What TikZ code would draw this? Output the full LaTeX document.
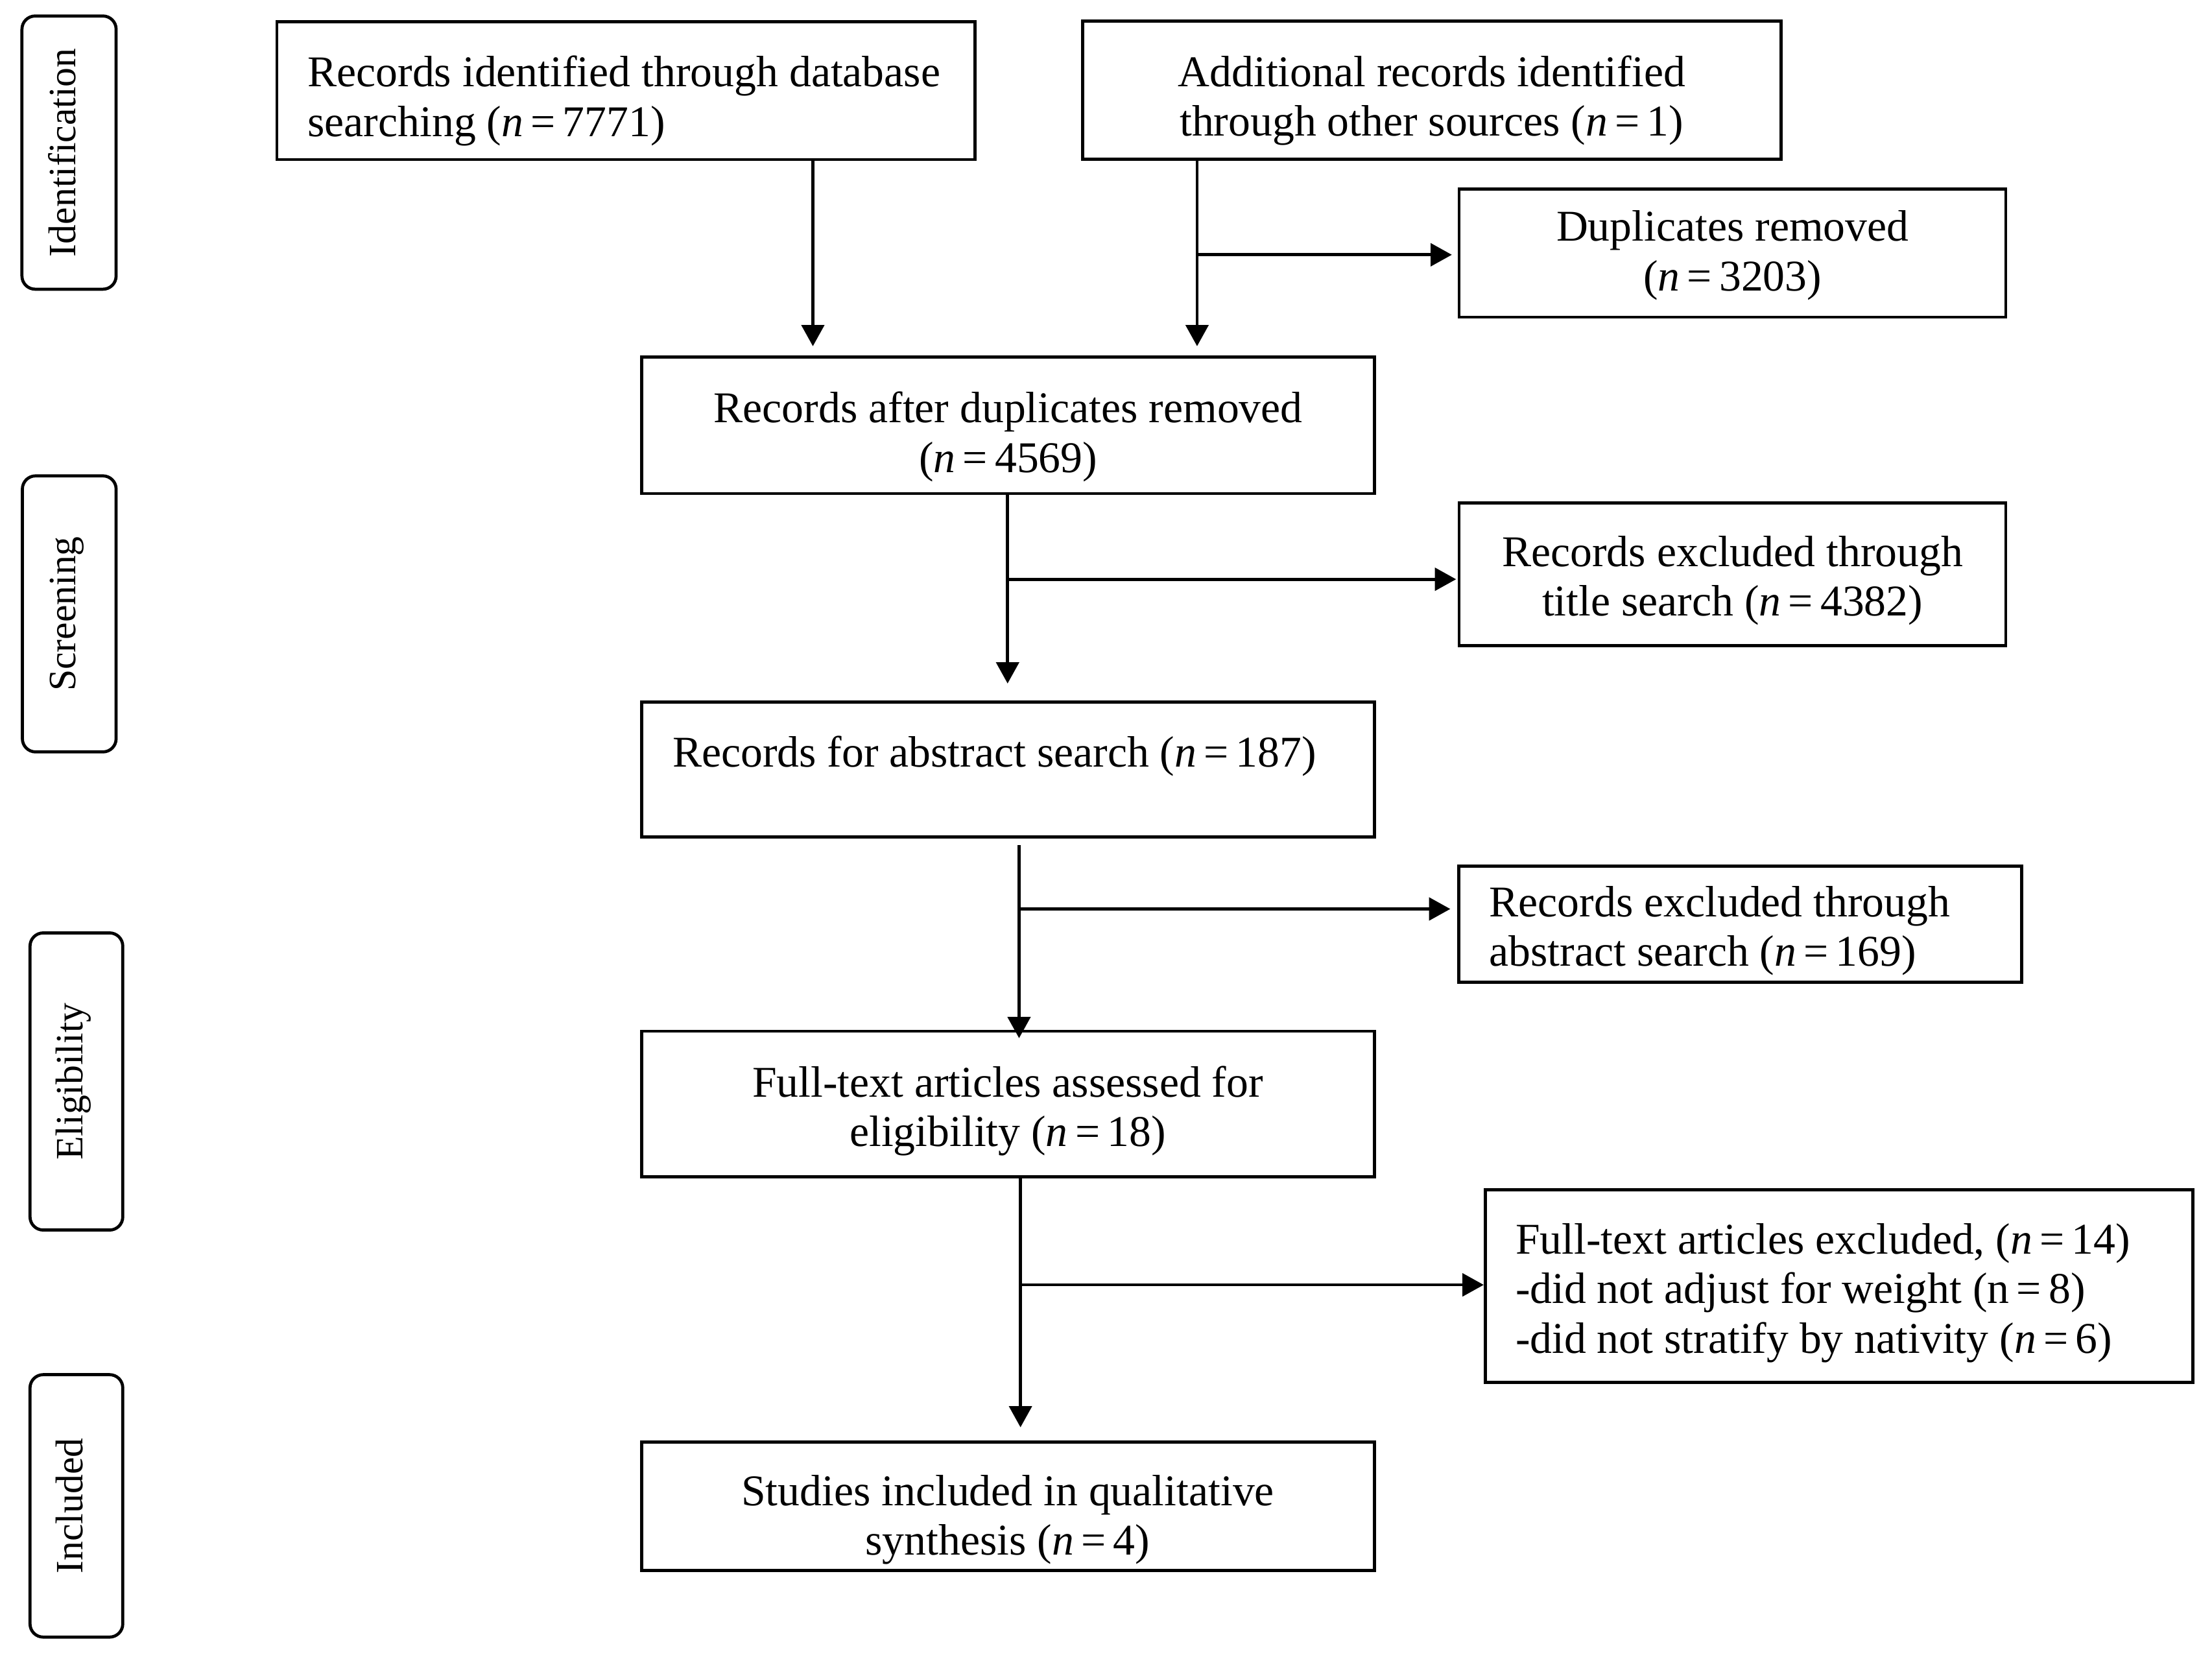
\documentclass[tikz,border=0pt]{standalone}
\usepackage{fontspec}
\setmainfont{Liberation Serif}
\usetikzlibrary{arrows.meta,calc,fit}
\newcommand{\nn}{\textit{n}\,=\,}
\newcommand{\TL}[2]{\begin{tabular}[t]{@{}#1@{}}#2\end{tabular}}
\begin{document}
\begin{tikzpicture}[x=0.3pt,y=-0.3pt,
  box/.style={draw, line width=0.65pt, inner sep=0pt, rectangle},
  side/.style={draw, line width=0.65pt, rounded corners=2.8pt, inner sep=0pt},
  txt/.style={inner sep=0pt, font=\fontsize{9.3}{10.5}\selectfont},
  stxt/.style={inner sep=0pt, rotate=90, anchor=base, font=\fontsize{8.2}{9}\selectfont},
  arr/.style={line width=0.65pt, -{Triangle[width=4.8pt,length=4.5pt]}}]
\useasboundingbox (0,0) rectangle (1562,1171);

% side phase boxes
\node[side, fit={(15.5,11.3) (82,204.2)}] (S1) {};
\node[stxt] (S1t) at (53.4,107.75) {Identification};
\node[side, fit={(15.8,336) (82,530.9)}] (S2) {};
\node[stxt] (S2t) at (53.2,433.45) {Screening};
\node[side, fit={(21.2,658.7) (86.7,868.5)}] (S3) {};
\node[stxt] (S3t) at (58.5,763.6) {Eligibility};
\node[side, fit={(21.2,970.6) (86.7,1155.9)}] (S4) {};
\node[stxt] (S4t) at (58.5,1063.25) {Included};

% main boxes
\node[box, fit={(195.5,15.2) (688.6,112.6)}] (A) {};
\node[box, fit={(764.4,15) (1257.8,112.5)}] (B) {};
\node[box, fit={(1030.3,133.4) (1416.4,223.9)}] (C) {};
\node[box, fit={(453.2,252.2) (970.6,348.5)}] (D) {};
\node[box, fit={(1030.3,355) (1416.4,456)}] (E) {};
\node[box, fit={(453.2,495.7) (970.4,591.1)}] (F) {};
\node[box, fit={(1030.2,611.7) (1427.4,693.5)}] (G) {};
\node[box, fit={(453.2,728.1) (970.4,830.9)}] (H) {};
\node[box, fit={(1048.8,840.1) (1548.3,975.9)}] (I) {};
\node[box, fit={(453.2,1018.2) (970.4,1108.8)}] (J) {};

% texts
\node[txt, anchor=base west] (At) at (216.6,61.2) {\TL{l}{Records identified through database\\searching (\nn7771)}};
\node[txt, anchor=base] (Bt) at (1011,61) {\TL{c}{Additional records identified\\through other sources (\nn1)}};
\node[txt, anchor=base] (Ct) at (1223.4,170.3) {\TL{c}{Duplicates removed\\(\nn3203)}};
\node[txt, anchor=base] (Dt) at (711.9,298.4) {\TL{c}{Records after duplicates removed\\(\nn4569)}};
\node[txt, anchor=base] (Et) at (1223.4,400) {\TL{c}{Records excluded through\\title search (\nn4382)}};
\node[txt, anchor=base west] (Ft) at (474.2,541.3) {Records for abstract search (\nn187)};
\node[txt, anchor=base west] (Gt) at (1051,647.3) {\TL{l}{Records excluded through\\abstract search (\nn169)}};
\node[txt, anchor=base] (Ht) at (711.6,774.4) {\TL{c}{Full-text articles assessed for\\eligibility (\nn18)}};
\node[txt, anchor=base west] (It) at (1069.5,885.4) {\TL{l}{Full-text articles excluded, (\nn14)\\-did not adjust for weight (n\,=\,8)\\-did not stratify by nativity (\nn6)}};
\node[txt, anchor=base] (Jt) at (711.6,1063) {\TL{c}{Studies included in qualitative\\synthesis (\nn4)}};

% junctions
\coordinate (ja) at (574,0);
\coordinate (jb) at (845.3,179.9);
\coordinate (jd) at (711.5,409);
\coordinate (jf) at (719.6,641.8);
\coordinate (jh) at (720.6,907.2);

% connectors
\draw[arr, shorten >=2pt] (A.south -| ja) -- (D.north -| ja);
\draw[arr, shorten >=2pt] (B.south -| jb) -- (D.north -| jb);
\draw[arr, shorten >=1.2pt] (jb) -- (C.west |- jb);
\draw[arr, shorten >=3.6pt] (D.south -| jd) -- (F.north -| jd);
\draw[arr, shorten >=0.3pt] (jd) -- (E.west |- jd);
\draw[arr, shorten <=1.35pt, shorten >=-1.8pt] (F.south -| jf) -- (H.north -| jf);
\draw[arr, shorten >=1.5pt] (jf) -- (G.west |- jf);
\draw[arr, shorten >=2.8pt] (H.south -| jh) -- (J.north -| jh);
\draw[arr] (jh) -- (I.west |- jh);
\end{tikzpicture}
\end{document}
